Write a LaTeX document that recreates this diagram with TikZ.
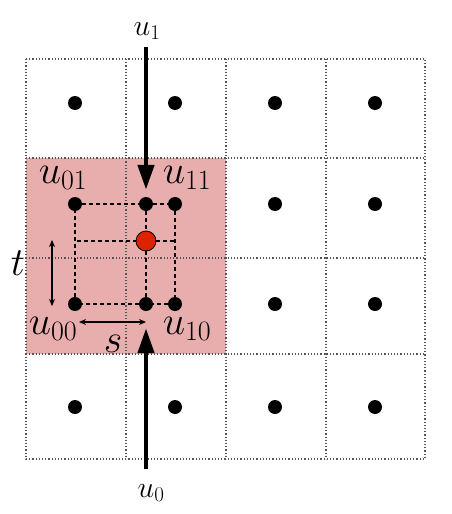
\documentclass[tikz,border=0pt]{standalone}
\usepackage{fix-cm}
\usetikzlibrary{arrows.meta}
\definecolor{cellred}{RGB}{232,174,173}
\definecolor{ptred}{RGB}{221,34,0}
\definecolor{gridgray}{RGB}{85,85,85}
\begin{document}
\begin{tikzpicture}[x=1pt,y=-1pt,
  gridline/.style={draw=gridgray, line width=1.2pt, dotted},
  dot/.style={circle, fill=black, inner sep=0pt, minimum size=14pt},
  reddot/.style={circle, fill=ptred, draw=black, line width=0.8pt, inner sep=0pt, minimum size=20pt},
  dashln/.style={line width=1.4pt, dash pattern=on 4pt off 3pt},
  bigarrow/.style={line width=4.5pt, -{Triangle[length=25pt,width=16pt]}},
  smallarrow/.style={line width=1.3pt, {Stealth[length=7pt,width=6pt]}-{Stealth[length=7pt,width=6pt]}},
  biglabel/.style={font=\fontsize{40}{48}\selectfont, inner sep=0pt, anchor=base},
  toplabel/.style={font=\fontsize{30}{36}\selectfont, inner sep=0pt, anchor=base}]
\useasboundingbox (0,0) rectangle (452,514);
% shaded cell block
\fill[cellred] (26,158) rectangle (226,354);
% grid
\draw[gridline] (26,59) rectangle (425,459);
\foreach \gx in {126,226,326} \draw[gridline] (\gx,59) -- (\gx,459);
\foreach \gy in {158,258,354} \draw[gridline] (26,\gy) -- (425,\gy);
% cell centre dots
\node[dot] (d11) at (75,103) {};
\node[dot] (d12) at (175,103) {};
\node[dot] (d13) at (275,103) {};
\node[dot] (d14) at (375,103) {};
\node[dot] (p01) at (75,204) {};
\node[dot] (pm1) at (146,204) {};
\node[dot] (p11) at (175,204) {};
\node[dot] (d23) at (275,204) {};
\node[dot] (d24) at (375,204) {};
\node[dot] (p00) at (75,304) {};
\node[dot] (pm0) at (146,304) {};
\node[dot] (p10) at (175,304) {};
\node[dot] (d33) at (275,304) {};
\node[dot] (d34) at (375,304) {};
\node[dot] (d41) at (75,407) {};
\node[dot] (d42) at (175,407) {};
\node[dot] (d43) at (275,407) {};
\node[dot] (d44) at (375,407) {};
\node[reddot] (q) at (146,241) {};
\coordinate (mL) at (77,241);
\coordinate (mR) at (175,241);
% dashed interpolation lines
\draw[dashln] (p01) -- (pm1);
\draw[dashln] (pm1) -- (p11);
\draw[dashln] (p11) -- (p10);
\draw[dashln] (p10) -- (pm0);
\draw[dashln] (pm0) -- (p00);
\draw[dashln] (p00) -- (p01);
\draw[dashln] (pm1) -- (q);
\draw[dashln] (q) -- (pm0);
\draw[dashln] (mL) -- (q);
\draw[dashln] (q) -- (mR);
% labels
\node[biglabel] (l01) at (63,183) {$u_{01}$};
\node[biglabel] (l11) at (187,183) {$u_{11}$};
\node[biglabel] (l00) at (53,334) {$u_{00}$};
\node[biglabel] (l10) at (187,334) {$u_{10}$};
\node[biglabel] (lt) at (18,275) {$t$};
\node[biglabel] (ls) at (113,352) {$s$};
\node[toplabel] (lu1) at (147,35) {$u_1$};
\node[toplabel] (lu0) at (151,497) {$u_0$};
% big arrows
\coordinate (a1) at (146,47);
\coordinate (a0) at (146,469);
\draw[bigarrow, shorten >=7pt] (a1) -- (pm1);
\draw[bigarrow, shorten >=17pt] (a0) -- (pm0);
% s and t arrows
\coordinate (t1) at (52,240);
\coordinate (t2) at (52,306);
\coordinate (s1) at (79,322);
\coordinate (s2) at (146,322);
\draw[smallarrow] (t1) -- (t2);
\draw[smallarrow] (s1) -- (s2);
\end{tikzpicture}
\end{document}
